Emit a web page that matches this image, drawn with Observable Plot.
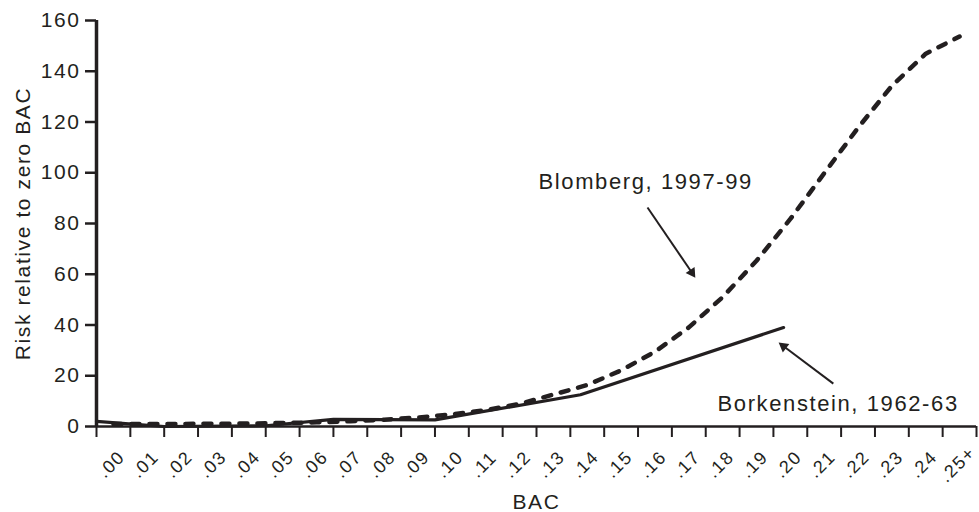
<!DOCTYPE html>
<html><head><meta charset="utf-8">
<script src="https://cdn.jsdelivr.net/npm/d3@7"></script>
<script src="https://cdn.jsdelivr.net/npm/@observablehq/plot@0.6"></script>
<style>
body{margin:0;background:#fff}
svg text{letter-spacing:1.6px}
</style>
</head><body><div id="chart"></div>
<script>
// BAC categories (bins of width .01), tick labels
const bacLabels = [".00",".01",".02",".03",".04",".05",".06",".07",".08",".09",".10",".11",".12",".13",".14",".15",".16",".17",".18",".19",".20",".21",".22",".23",".24",".25+"];
const bacBinStart = [0,0.01,0.02,0.03,0.04,0.05,0.06,0.07,0.08,0.09,0.10,0.11,0.12,0.13,0.14,0.15,0.16,0.17,0.18,0.19,0.20,0.21,0.22,0.23,0.24,0.25];
const binWidth = 0.01;
// Blomberg, 1997-99 relative risk per BAC category
const blombergRisk = [1.00,1.03,1.03,1.06,1.18,1.38,1.63,2.09,2.69,3.54,4.79,6.41,8.90,12.60,16.36,22.10,29.48,39.05,50.99,65.32,81.79,99.78,117.72,134.26,146.90,153.68];
// Borkenstein, 1962-63
const borkensteinBAC  = [0.000,0.020,0.050,0.070,0.100,0.143,0.203];
const borkensteinRisk = [2.0,0.0,0.3,2.8,2.6,12.5,39.0];
const yTicks = [0,20,40,60,80,100,120,140,160];

const blomberg = bacBinStart.map((b,i)=>({bac: b + binWidth/2, risk: blombergRisk[i]}));
const borkenstein = borkensteinBAC.map((b,i)=>({bac: b, risk: borkensteinRisk[i]}));
const binEdges = [...bacBinStart, 0.26];
const labelRows = bacLabels.map((l,i)=>({bac: bacBinStart[i] + binWidth/2, label: l}));

const ink = "#231f20";
const chart = Plot.plot({
  width: 979, height: 512,
  marginLeft: 96, marginRight: 3, marginTop: 20, marginBottom: 86,
  style: {fontFamily: "'Liberation Sans', Arial, sans-serif", fontSize: "15px", background: "#fff", color: ink},
  x: {domain: [0, 0.26], axis: null},
  y: {domain: [0, 160], axis: null},
  marks: [
    Plot.axisY({ticks: yTicks, tickSize: 11, strokeWidth: 2.5, tickPadding: 5, fontSize: 21, label: null, stroke: ink, fill: ink}),
    Plot.axisX({ticks: binEdges, tickSize: 11, strokeWidth: 2, tickFormat: () => "", label: null, stroke: ink}),
    Plot.text(labelRows, {x: "bac", y: () => 0, text: "label", rotate: -45, dy: 38, dx: -2, fontSize: 18, fill: ink}),
    Plot.ruleX([0], {y1: 0, y2: 160, strokeWidth: 3.5, stroke: ink}),
    Plot.ruleY([0], {strokeWidth: 2.5, stroke: ink}),
    Plot.line(borkenstein, {x: "bac", y: "risk", stroke: ink, strokeWidth: 3.2}),
    Plot.line(blomberg, {x: "bac", y: "risk", stroke: ink, strokeWidth: 4.5, strokeDasharray: "8,10"}),
    Plot.text(["Blomberg, 1997-99"], {x: () => 0.1306, y: () => 96.5, text: d => d, textAnchor: "start", fontSize: 22, fill: ink}),
    Plot.text(["Borkenstein, 1962-63"], {x: () => 0.1835, y: () => 9.06, text: d => d, textAnchor: "start", fontSize: 22, fill: ink}),
    Plot.link([0], {x1: () => 0.1628, y1: () => 86.3, x2: () => 0.1759, y2: () => 60.7, stroke: ink, strokeWidth: 2}),
    Plot.dot([0], {x: () => 0.1759, y: () => 60.7, symbol: "triangle", r: 4, fill: ink, stroke: "none", rotate: 146}),
    Plot.link([0], {x1: () => 0.2177, y1: () => 16.9, x2: () => 0.2030, y2: () => 31.6, stroke: ink, strokeWidth: 2}),
    Plot.dot([0], {x: () => 0.2030, y: () => 31.6, symbol: "triangle", r: 4, fill: ink, stroke: "none", rotate: -53}),
    Plot.text(["BAC"], {frameAnchor: "bottom", dy: 76, lineAnchor: "middle", fontSize: 21, fill: ink}),
    Plot.text(["Risk relative to zero BAC"], {frameAnchor: "left", dx: -73, rotate: -90, textAnchor: "middle", fontSize: 21, fill: ink})
  ]
});
document.getElementById("chart").appendChild(chart);
</script>
</body></html>
